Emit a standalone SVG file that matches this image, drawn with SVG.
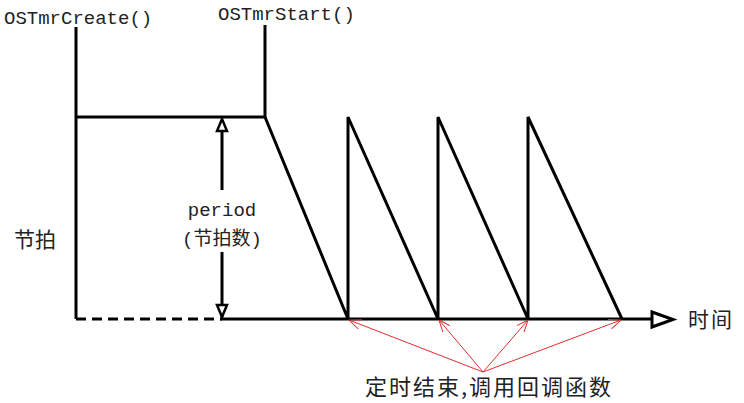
<svg xmlns="http://www.w3.org/2000/svg" width="744" height="403" viewBox="0 0 744 403">
<style>
.k{stroke:#000;stroke-width:3;fill:none;stroke-linejoin:miter}
.r{stroke:#e03030;stroke-width:1;fill:none}
.m{font-family:"Liberation Mono","Noto Sans CJK SC",monospace;font-size:19px;fill:#222}
.c{font-family:"Noto Sans CJK SC",sans-serif;fill:#222}
</style>
<defs>
<marker id="ra" viewBox="0 0 12 10" refX="12" refY="5" markerWidth="12" markerHeight="10" markerUnits="userSpaceOnUse" orient="auto">
<path d="M0,0 L12,5 L0,10" fill="none" stroke="#e03030" stroke-width="1"/>
</marker>
</defs>
<rect width="744" height="403" fill="#fff"/>
<g id="labels">
<text class="m" x="4" y="24">OSTmrCreate()</text>
<text class="m" x="218" y="20">OSTmrStart()</text>
<text class="m" x="222" y="216" text-anchor="middle">period</text>
<text class="m" x="222" y="245" text-anchor="middle">(节拍数)</text>
<text class="c" x="14" y="247" font-size="21">节拍</text>
<text class="c" x="688" y="327" font-size="21" letter-spacing="2">时间</text>
<text class="c" x="365" y="395" font-size="22" letter-spacing="2">定时结束,调用回调函数</text>
</g>
<g id="waveform">
<polyline class="k" points="76,27 76,319"/>
<polyline class="k" points="76,117 265,117 265,25"/>
<polyline class="k" points="265,117 348,319 348,117 438,319 438,117 528,319 528,117 622,319"/>
</g>
<g id="axis">
<line class="k" x1="76" y1="319" x2="222" y2="319" stroke-dasharray="10 6"/>
<line class="k" x1="220" y1="319" x2="651" y2="319"/>
<polygon points="652,312 673,319.5 652,327" fill="none" stroke="#000" stroke-width="3"/>
</g>
<g id="period-arrow">
<line class="k" x1="222" y1="120" x2="222" y2="190"/>
<line class="k" x1="222" y1="252" x2="222" y2="317"/>
<polygon points="222,119 227,131 217,131" fill="#fff" stroke="#000" stroke-width="2.5"/>
<polygon points="222,317 227,305 217,305" fill="#fff" stroke="#000" stroke-width="2.5"/>
</g>
<g id="connectors">
<line class="r" x1="483" y1="372" x2="349" y2="320" marker-end="url(#ra)"/>
<line class="r" x1="483" y1="372" x2="439" y2="320" marker-end="url(#ra)"/>
<line class="r" x1="483" y1="372" x2="528" y2="320" marker-end="url(#ra)"/>
<line class="r" x1="483" y1="372" x2="621" y2="320" marker-end="url(#ra)"/>
</g>
</svg>
